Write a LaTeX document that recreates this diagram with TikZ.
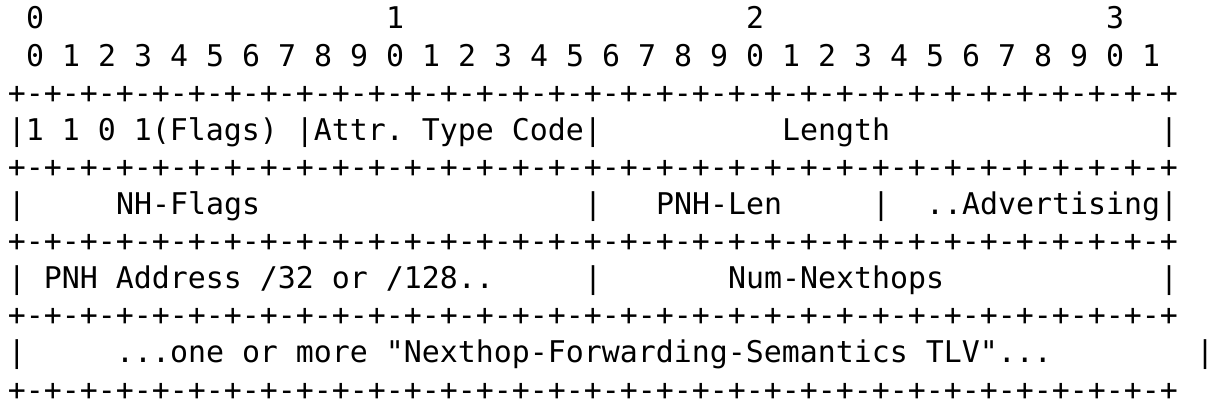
\documentclass[tikz,border=0pt]{standalone}
\usepackage{fontspec}
\setmonofont{DejaVu Sans Mono}
\begin{document}
\begin{tikzpicture}[x=1pt,y=1pt,
  txt/.style={anchor=base west,inner sep=0pt,outer sep=0pt,font=\ttfamily\fontsize{29.9}{30}\selectfont,text=black}]
\useasboundingbox (0,0) rectangle (1215,408);
\def\cx#1{8+18*#1}
\def\ly#1{379-37.1*#1}
% line 0
\node[txt] (d0a) at ({\cx{1}},{\ly{0}}) {0};
\node[txt] (d0b) at ({\cx{21}},{\ly{0}}) {1};
\node[txt] (d0c) at ({\cx{41}},{\ly{0}}) {2};
\node[txt] (d0d) at ({\cx{61}},{\ly{0}}) {3};
% line 1
\foreach \i in {0,...,31}{
  \pgfmathtruncatemacro{\dg}{mod(\i,10)}
  \node[txt] (d1-\i) at ({\cx{(1+2*\i)}},{\ly{1}}) {\dg};
}
% borders
\foreach \r in {2,4,6,8,10}{
  \node[txt] (b\r) at ({\cx{0}},{\ly{\r}}) {+-+-+-+-+-+-+-+-+-+-+-+-+-+-+-+-+-+-+-+-+-+-+-+-+-+-+-+-+-+-+-+-+};
}
% line 3
\node[txt] (f3a) at ({\cx{0}},{\ly{3}}) {|1 1 0 1(Flags) |Attr. Type Code|};
\node[txt] (f3b) at ({\cx{43}},{\ly{3}}) {Length};
\node[txt] (f3c) at ({\cx{64}},{\ly{3}}) {|};
% line 5
\node[txt] (f5a) at ({\cx{0}},{\ly{5}}) {|};
\node[txt] (f5b) at ({\cx{6}},{\ly{5}}) {NH-Flags};
\node[txt] (f5c) at ({\cx{32}},{\ly{5}}) {|};
\node[txt] (f5d) at ({\cx{36}},{\ly{5}}) {PNH-Len};
\node[txt] (f5e) at ({\cx{48}},{\ly{5}}) {|};
\node[txt] (f5f) at ({\cx{51}},{\ly{5}}) {..Advertising|};
% line 7
\node[txt] (f7a) at ({\cx{0}},{\ly{7}}) {| PNH Address /32 or /128..};
\node[txt] (f7b) at ({\cx{32}},{\ly{7}}) {|};
\node[txt] (f7c) at ({\cx{40}},{\ly{7}}) {Num-Nexthops};
\node[txt] (f7d) at ({\cx{64}},{\ly{7}}) {|};
% line 9
\node[txt] (f9a) at ({\cx{0}},{\ly{9}}) {|};
\node[txt] (f9b) at ({\cx{6}},{\ly{9}}) {...one or more "Nexthop-Forwarding-Semantics TLV"...};
\node[txt] (f9c) at ({\cx{66}},{\ly{9}}) {|};
\end{tikzpicture}
\end{document}
